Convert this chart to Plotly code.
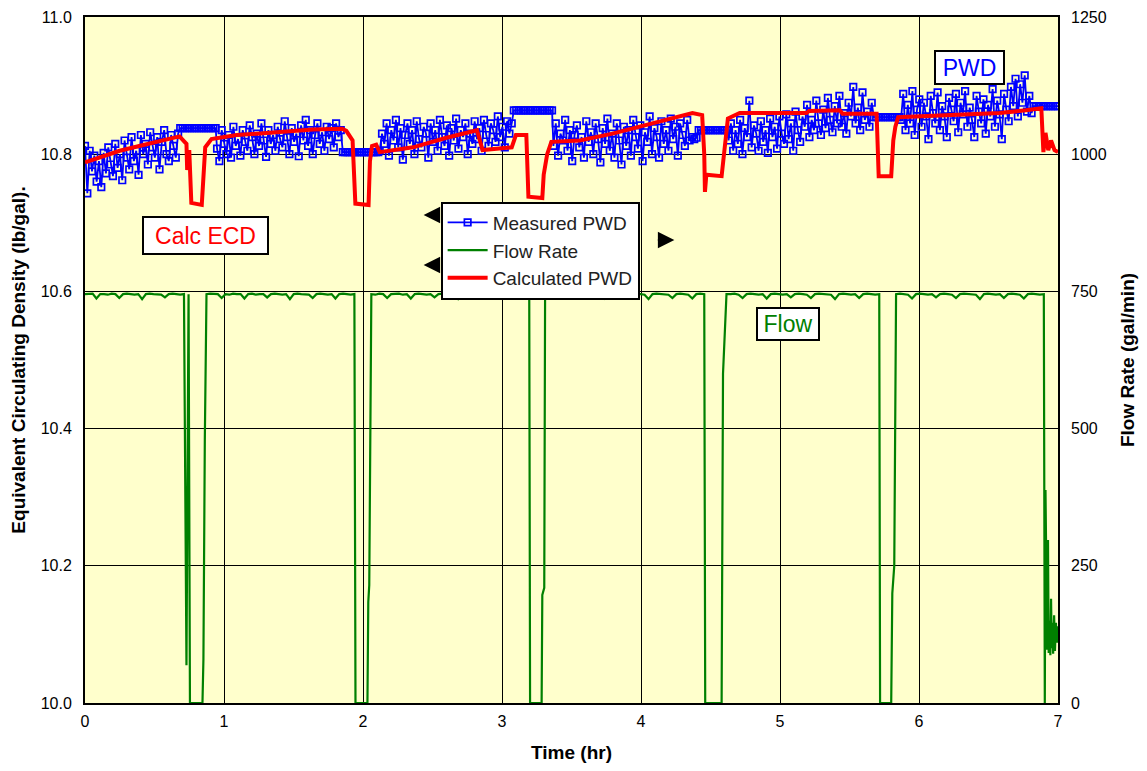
import numpy as np
import plotly.graph_objects as go

# ---------------- DATA ----------------
# Measured PWD (lb/gal): noisy sampled segments (start hr, end hr, values)
pwd_seg_a = [10.812, 10.743, 10.805, 10.775, 10.798, 10.760, 10.790, 10.752, 10.802, 10.772,
             10.810, 10.785, 10.768, 10.815, 10.780, 10.800, 10.762, 10.820, 10.795, 10.778,
             10.825, 10.790, 10.805, 10.770, 10.828, 10.800, 10.815, 10.785, 10.832, 10.810,
             10.795, 10.825, 10.778, 10.818, 10.835, 10.800, 10.790, 10.828, 10.812, 10.795, 10.830]
pwd_seg_b = [10.808, 10.790, 10.835, 10.815, 10.800, 10.828, 10.795, 10.840, 10.812, 10.822,
             10.798, 10.835, 10.818, 10.805, 10.842, 10.825, 10.800, 10.830, 10.812, 10.845,
             10.820, 10.796, 10.835, 10.815, 10.828, 10.805, 10.840, 10.822, 10.810, 10.848,
             10.825, 10.800, 10.838, 10.818, 10.830, 10.797, 10.842, 10.820, 10.850, 10.812,
             10.835, 10.800, 10.828, 10.845, 10.815, 10.832, 10.805, 10.840, 10.822, 10.838,
             10.810, 10.845, 10.825, 10.835]
pwd_seg_c = [10.805, 10.830, 10.815, 10.845, 10.798, 10.835, 10.820, 10.850, 10.810, 10.838,
             10.792, 10.828, 10.845, 10.815, 10.835, 10.800, 10.848, 10.822, 10.810, 10.840,
             10.830, 10.795, 10.845, 10.818, 10.835, 10.805, 10.850, 10.825, 10.812, 10.842,
             10.798, 10.838, 10.820, 10.852, 10.808, 10.835, 10.825, 10.845, 10.800, 10.830,
             10.815, 10.848, 10.822, 10.838, 10.805, 10.850, 10.828, 10.812, 10.845, 10.835,
             10.818, 10.855, 10.825, 10.840, 10.810, 10.848, 10.830, 10.845]
pwd_seg_d = [10.812, 10.845, 10.798, 10.830, 10.820, 10.850, 10.805, 10.835, 10.790, 10.828,
             10.842, 10.810, 10.825, 10.795, 10.848, 10.818, 10.832, 10.800, 10.845, 10.822,
             10.788, 10.838, 10.815, 10.852, 10.805, 10.830, 10.795, 10.845, 10.820, 10.785,
             10.840, 10.812, 10.835, 10.798, 10.850, 10.825, 10.808, 10.842, 10.790, 10.832,
             10.818, 10.855, 10.800, 10.838, 10.825, 10.795, 10.848, 10.815, 10.835, 10.805,
             10.852, 10.822, 10.840, 10.798, 10.845, 10.828, 10.812, 10.850, 10.820, 10.825,
             10.822, 10.824]
pwd_seg_e = [10.820, 10.845, 10.805, 10.835, 10.815, 10.850, 10.800, 10.838, 10.825, 10.878,
             10.810, 10.842, 10.830, 10.805, 10.848, 10.818, 10.835, 10.802, 10.852, 10.825,
             10.840, 10.808, 10.855, 10.830, 10.815, 10.858, 10.822, 10.845, 10.805, 10.862,
             10.835, 10.818, 10.855, 10.840, 10.872, 10.825, 10.850, 10.835, 10.878, 10.845,
             10.828, 10.865, 10.838, 10.882, 10.850, 10.832, 10.870, 10.845, 10.885, 10.840,
             10.860, 10.830, 10.875, 10.855, 10.898, 10.845, 10.868, 10.835, 10.890, 10.850,
             10.862, 10.840, 10.875]
pwd_seg_f = [10.850, 10.888, 10.835, 10.872, 10.845, 10.892, 10.828, 10.865, 10.880, 10.840,
             10.875, 10.855, 10.822, 10.885, 10.860, 10.845, 10.890, 10.835, 10.870, 10.855,
             10.825, 10.882, 10.865, 10.848, 10.888, 10.832, 10.875, 10.858, 10.892, 10.840,
             10.868, 10.850, 10.825, 10.885, 10.862, 10.845, 10.880, 10.830, 10.872, 10.855,
             10.895, 10.840, 10.878, 10.858, 10.822, 10.888, 10.865, 10.848, 10.898, 10.870,
             10.910, 10.855, 10.902, 10.875, 10.915, 10.862, 10.885, 10.860]
pwd_seg_start = [0.0, 0.95, 2.12, 3.37, 4.63, 5.87]
pwd_seg_end = [0.67, 1.84, 3.07, 4.40, 5.66, 6.81]
# Held (not updated) PWD readings while pumps are off
pwd_hold_start = [0.685, 1.855, 3.085, 4.415, 5.675, 6.825]
pwd_hold_end = [0.94, 2.11, 3.36, 4.62, 5.86, 7.0]
pwd_hold_value = [10.838, 10.803, 10.864, 10.835, 10.854, 10.870]
pwd_hold_count = [16, 16, 17, 13, 12, 11]

# Calculated PWD (lb/gal)
calc_time = [0.0, 0.1, 0.25, 0.39, 0.54, 0.68, 0.73, 0.735, 0.75, 0.765, 0.84, 0.855, 0.865, 0.91,
             1.09, 1.26, 1.40, 1.64, 1.85, 1.88, 1.925, 1.945, 2.04, 2.05, 2.065, 2.095, 2.12, 2.36,
             2.60, 2.82, 2.86, 3.07, 3.10, 3.175, 3.19, 3.29, 3.30, 3.325, 3.355, 3.56, 3.795, 4.04,
             4.28, 4.37, 4.44, 4.455, 4.46, 4.47, 4.58, 4.595, 4.61, 4.625, 4.71, 5.19, 5.21, 5.43,
             5.45, 5.695, 5.71, 5.80, 5.815, 5.83, 5.85, 6.24, 6.58, 6.77, 6.88, 6.895, 6.91, 6.93,
             6.95, 6.975, 7.0]
calc_ecd = [10.788, 10.795, 10.805, 10.812, 10.82, 10.826, 10.815, 10.777, 10.806, 10.729, 10.726,
            10.777, 10.81, 10.822, 10.828, 10.830, 10.832, 10.836, 10.837, 10.834, 10.82, 10.728,
            10.726, 10.79, 10.812, 10.814, 10.803, 10.81, 10.824, 10.835, 10.806, 10.81, 10.828,
            10.828, 10.738, 10.736, 10.77, 10.80, 10.818, 10.82, 10.83, 10.843, 10.856, 10.86,
            10.857, 10.80, 10.745, 10.77, 10.768, 10.80, 10.83, 10.852, 10.86, 10.86, 10.863,
            10.864, 10.859, 10.859, 10.768, 10.768, 10.82, 10.84, 10.854, 10.857, 10.86, 10.864,
            10.867, 10.803, 10.831, 10.806, 10.82, 10.806, 10.803]

# Flow rate (gal/min): pumping segments (start hr, end hr, sampled values)
flow_on_1 = [745, 745, 746, 737, 745, 745, 744, 746, 745, 738, 745, 746, 745, 744, 745, 736,
             745, 746, 745, 745, 744, 739, 745, 746, 745, 744, 745]
flow_on_2 = [745, 746, 745, 745, 738, 745, 744, 746, 745, 745, 737, 745, 746, 744, 745, 745,
             739, 745, 746, 745, 744, 745, 736, 745, 746, 745, 745, 744, 738, 745, 746, 745,
             744, 745, 737, 745, 746, 745, 744, 745]
flow_on_3 = [745, 744, 746, 745, 738, 745, 745, 746, 744, 745, 737, 745, 746, 745, 744, 745,
             739, 745, 746, 744, 745, 745, 736, 745, 746, 745, 744, 738, 745, 746, 745, 745,
             744, 737, 745, 746, 745, 744, 745, 739, 745]
flow_on_4 = [745, 746, 744, 745, 745, 768, 745, 768, 745, 746, 738, 745, 744, 746, 745, 737,
             745, 746, 745, 744, 745, 739, 745, 746, 745, 744, 736, 745, 746, 745, 745, 744,
             738, 745, 746, 745, 744, 737, 745, 746, 745]
flow_on_5 = [745, 745, 746, 744, 738, 745, 746, 745, 744, 745, 737, 745, 746, 745, 744, 745,
             739, 745, 746, 745, 744, 738, 745, 746, 745, 745, 744, 736, 745, 746, 745, 744,
             745, 738, 745, 746, 745, 744, 745]
flow_on_6 = [745, 746, 745, 744, 737, 745, 746, 745, 744, 745, 739, 745, 746, 745, 744, 738,
             745, 746, 745, 745, 744, 736, 745, 746, 745, 744, 745, 738, 745, 746, 745, 744,
             737, 745, 746, 745, 744, 745]
flow_on_start = [0.0, 0.874, 2.06, 3.31, 4.615, 5.835]
flow_on_end = [0.712, 1.938, 3.196, 4.455, 5.714, 6.898]
# Pump shut-down / start-up transitions
flow_trans_time = [0.73, 0.745, 0.755, 0.845, 0.852, 0.862, 0.87,
                   1.946, 2.032, 2.038, 2.045, 2.056,
                   3.202, 3.285, 3.29, 3.304, 3.306,
                   4.462, 4.58, 4.59, 4.605, 4.612,
                   5.72, 5.80, 5.808, 5.822, 5.831,
                   6.905, 6.91, 6.915, 6.922, 6.928, 6.933, 6.94, 6.945, 6.95, 6.955, 6.96, 6.965,
                   6.972, 6.978, 6.985, 6.992, 7.0]
flow_trans_rate = [69, 745, 0, 0, 80, 480, 745,
                   0, 0, 184, 215, 745,
                   0, 0, 197, 210, 745,
                   0, 0, 600, 680, 745,
                   0, 0, 200, 250, 745,
                   0, 388, 230, 97, 297, 91, 150, 87, 190, 100, 146, 90,
                   160, 95, 146, 110, 140]

x_ticks = [0, 1, 2, 3, 4, 5, 6, 7]
ecd_ticks = [10.0, 10.2, 10.4, 10.6, 10.8, 11.0]
flow_ticks = [0, 250, 500, 750, 1000, 1250]

# ---------------- BUILD SERIES ----------------
pwd_segments = [pwd_seg_a, pwd_seg_b, pwd_seg_c, pwd_seg_d, pwd_seg_e, pwd_seg_f]
pwd_t, pwd_v = [], []
for i, seg in enumerate(pwd_segments):
    pwd_t += list(np.linspace(pwd_seg_start[i], pwd_seg_end[i], len(seg)))
    pwd_v += seg
    n = pwd_hold_count[i]
    pwd_t += list(np.linspace(pwd_hold_start[i], pwd_hold_end[i], n))
    pwd_v += [pwd_hold_value[i]] * n
order = np.argsort(pwd_t, kind="stable")
pwd_t = list(np.array(pwd_t)[order])
pwd_v = list(np.array(pwd_v)[order])

flow_segments = [flow_on_1, flow_on_2, flow_on_3, flow_on_4, flow_on_5, flow_on_6]
fl_t, fl_v = [], []
for i, seg in enumerate(flow_segments):
    fl_t += list(np.linspace(flow_on_start[i], flow_on_end[i], len(seg)))
    fl_v += seg
fl_t += flow_trans_time
fl_v += flow_trans_rate
order = np.argsort(fl_t, kind="stable")
fl_t = list(np.array(fl_t)[order])
fl_v = list(np.array(fl_v)[order])

# ---------------- FIGURE ----------------
FONT = "Liberation Sans, Arial, sans-serif"
fig = go.Figure()
fig.add_trace(go.Scatter(
    x=pwd_t, y=pwd_v, name="Measured PWD", mode="lines+markers",
    line=dict(color="#0000FF", width=1.8),
    marker=dict(symbol="square-open", size=6.5, color="#0000FF", line=dict(width=1.7, color="#0000FF")),
))
fig.add_trace(go.Scatter(
    x=fl_t, y=fl_v, name="Flow Rate", mode="lines", yaxis="y2",
    line=dict(color="#008000", width=2.2),
))
fig.add_trace(go.Scatter(
    x=calc_time, y=calc_ecd, name="Calculated PWD", mode="lines",
    line=dict(color="#FF0000", width=4),
))

# page body has an 8px margin, so the figure is sized/offset to compensate
fig.update_layout(
    width=1139, height=763,
    margin=dict(l=77, r=89, t=9, b=68, autoexpand=False),
    paper_bgcolor="white", plot_bgcolor="#FFFFCC",
    font=dict(family=FONT, size=16, color="black"),
    showlegend=True,
    legend=dict(
        x=0.3655, y=0.731, xanchor="left", yanchor="top",
        bgcolor="white", bordercolor="black", borderwidth=2,
        font=dict(family=FONT, size=19, color="#222222"),
        tracegroupgap=0, itemwidth=40,
    ),
    xaxis=dict(
        range=[0, 7], tickvals=x_ticks, ticktext=[str(v) for v in x_ticks],
        showgrid=True, gridcolor="black", gridwidth=1,
        showline=True, linecolor="black", linewidth=2, mirror=True,
        ticks="", zeroline=False, tickfont=dict(size=16), ticklabelstandoff=3,
        automargin=False,
        title=dict(text="<b>Time (hr)</b>", font=dict(size=19), standoff=16),
    ),
    yaxis=dict(
        range=[10.0, 11.0], tickvals=ecd_ticks, ticktext=[f"{v:.1f}" for v in ecd_ticks],
        showgrid=True, gridcolor="black", gridwidth=1,
        showline=True, linecolor="black", linewidth=2, mirror=True,
        ticks="", zeroline=False, tickfont=dict(size=16), ticklabelstandoff=8,
        automargin=False,
        title=dict(text="<b>Equivalent Circulating Density (lb/gal).</b>", font=dict(size=19), standoff=10),
    ),
    yaxis2=dict(
        range=[0, 1250], tickvals=flow_ticks, ticktext=[str(v) for v in flow_ticks],
        overlaying="y", side="right", showgrid=False, zeroline=False,
        showline=False, ticks="", tickfont=dict(size=16), ticklabelstandoff=12,
        automargin=False,
        title=dict(text="<b>Flow Rate (gal/min)</b>", font=dict(size=19), standoff=15),
    ),
)

# Text boxes
boxes = [
    ("Calc ECD", 0.124, 0.681, "#FF0000", 121, 33),
    ("PWD", 0.9086, 0.927, "#0000FF", 65, 29),
    ("Flow", 0.7228, 0.5525, "#008000", 58, 28),
]
for txt, bx, by, col, w, h in boxes:
    fig.add_annotation(
        x=bx, y=by, xref="paper", yref="paper", text=txt, showarrow=False,
        font=dict(family=FONT, size=23, color=col),
        bgcolor="white", bordercolor="black", borderwidth=2, borderpad=1,
        width=w, height=h, xanchor="center", yanchor="middle",
    )

# Axis-indicator arrows beside the legend
arrows = [(0.348, 0.7114, 17), (0.348, 0.6385, 17), (0.6057, 0.675, -18)]
for hx, hy, axp in arrows:
    fig.add_annotation(
        x=hx, y=hy, xref="paper", yref="paper", text="", showarrow=True,
        ax=axp, ay=0, arrowhead=2, arrowsize=2.2, arrowwidth=1.5, arrowcolor="black",
    )

fig.write_html("out.html")
